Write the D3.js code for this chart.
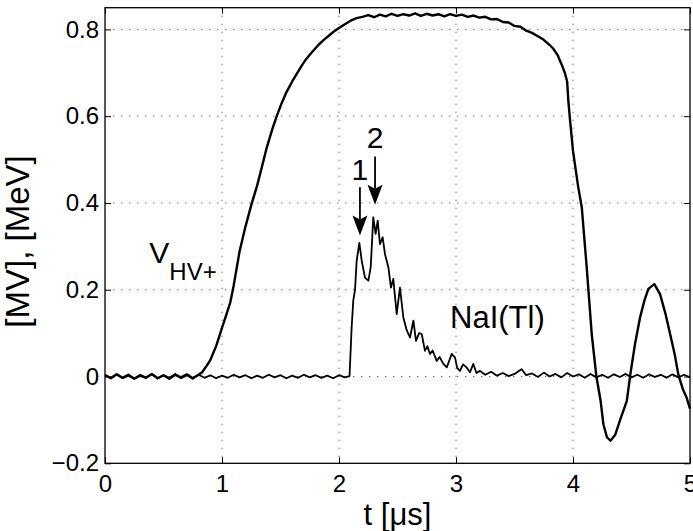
<!DOCTYPE html>
<html>
<head>
<meta charset="utf-8">
<script src="https://cdn.jsdelivr.net/npm/d3@7"></script>
<style>
  body { margin: 0; background: #fff; }
  text { font-family: "Liberation Sans", Arial, sans-serif; fill: #000; }
</style>
</head>
<body>
<svg width="693" height="531"></svg>
<script>
// tick values
const X_TICKS = [0, 1, 2, 3, 4, 5];
const Y_TICKS = [-0.2, 0, 0.2, 0.4, 0.6, 0.8];

// V_HV+ pulse, [t (us), MV]
const HV_PULSE = [
  [0, 0.003], [0.05, -0.004], [0.1, 0.005], [0.15, -0.003], [0.2, 0.004], [0.25, -0.005],
  [0.3, 0.002], [0.35, -0.003], [0.4, 0.006], [0.45, -0.004], [0.5, 0.003], [0.55, -0.005],
  [0.6, 0.004], [0.65, -0.002], [0.7, 0.005], [0.75, -0.004], [0.8, 0.004],
  [0.83, 0.01], [0.87, 0.025], [0.9, 0.038], [0.95, 0.07], [1.0, 0.112], [1.04, 0.145],
  [1.07, 0.17], [1.1, 0.21], [1.15, 0.288], [1.2, 0.345], [1.25, 0.395], [1.3, 0.44],
  [1.34, 0.482], [1.38, 0.525], [1.43, 0.57], [1.47, 0.602], [1.51, 0.63], [1.55, 0.655],
  [1.6, 0.68], [1.64, 0.698], [1.68, 0.716], [1.72, 0.732], [1.77, 0.748], [1.82, 0.763],
  [1.87, 0.776], [1.92, 0.787], [1.96, 0.796], [2.0, 0.803], [2.05, 0.812], [2.1, 0.82],
  [2.15, 0.826], [2.2, 0.829], [2.25, 0.833], [2.3, 0.828], [2.35, 0.834], [2.4, 0.83],
  [2.45, 0.836], [2.5, 0.831], [2.55, 0.835], [2.6, 0.832], [2.65, 0.837], [2.7, 0.831],
  [2.75, 0.836], [2.8, 0.832], [2.85, 0.835], [2.9, 0.83], [2.95, 0.835], [3.0, 0.831],
  [3.05, 0.834], [3.1, 0.829], [3.15, 0.832], [3.2, 0.827], [3.25, 0.829], [3.3, 0.823],
  [3.35, 0.824], [3.4, 0.817], [3.45, 0.816], [3.5, 0.808], [3.55, 0.806], [3.6, 0.797],
  [3.65, 0.792], [3.7, 0.784], [3.75, 0.776], [3.8, 0.764], [3.83, 0.756], [3.87, 0.74],
  [3.9, 0.721], [3.93, 0.7], [3.95, 0.68], [3.96, 0.636], [3.975, 0.59], [4.0, 0.52],
  [4.045, 0.436], [4.075, 0.39], [4.117, 0.252], [4.16, 0.098], [4.2, 0.0], [4.236, -0.056],
  [4.26, -0.11], [4.29, -0.14], [4.32, -0.148], [4.36, -0.135], [4.4, -0.102], [4.46, -0.056],
  [4.49, 0.005], [4.53, 0.075], [4.573, 0.136], [4.61, 0.175], [4.644, 0.202], [4.695, 0.213],
  [4.744, 0.19], [4.79, 0.145], [4.83, 0.098], [4.87, 0.05], [4.9, 0.005], [4.94, -0.03],
  [4.97, -0.048], [5.0, -0.074]
];

// NaI(Tl) signal, [t (us), MeV]
const NAI_SIGNAL = [
  [0, 0.004], [0.05, -0.003], [0.1, 0.005], [0.15, -0.004], [0.2, 0.002], [0.25, -0.005],
  [0.3, 0.004], [0.35, -0.002], [0.4, 0.005], [0.45, -0.004], [0.5, 0.003], [0.55, -0.003],
  [0.6, 0.006], [0.65, -0.004], [0.7, 0.003], [0.75, -0.005], [0.8, 0.004], [0.85, -0.003],
  [0.9, 0.003], [0.95, -0.004], [1.0, 0.002], [1.05, -0.003], [1.1, 0.004], [1.15, -0.002],
  [1.2, 0.003], [1.25, -0.004], [1.3, 0.002], [1.35, -0.003], [1.4, 0.004], [1.45, -0.002],
  [1.5, 0.003], [1.55, -0.004], [1.6, 0.002], [1.65, -0.003], [1.7, 0.004], [1.75, -0.002],
  [1.8, 0.003], [1.85, -0.003], [1.9, 0.002], [1.95, -0.004], [2.0, 0.003], [2.05, -0.002],
  [2.09, 0.001],
  [2.108, 0.113], [2.122, 0.175], [2.137, 0.2], [2.151, 0.267], [2.174, 0.308], [2.194, 0.267],
  [2.222, 0.228], [2.251, 0.221], [2.271, 0.252], [2.293, 0.367], [2.313, 0.329], [2.331, 0.359],
  [2.35, 0.305], [2.373, 0.321], [2.393, 0.282], [2.422, 0.252], [2.444, 0.205], [2.464, 0.225],
  [2.493, 0.144], [2.521, 0.205], [2.55, 0.136], [2.575, 0.11], [2.593, 0.098], [2.607, 0.09],
  [2.636, 0.129], [2.658, 0.082], [2.685, 0.1], [2.707, 0.098], [2.735, 0.059], [2.755, 0.07],
  [2.778, 0.052], [2.8, 0.06], [2.835, 0.036], [2.86, 0.045], [2.892, 0.029], [2.921, 0.021],
  [2.94, 0.035], [2.963, 0.052], [2.991, 0.044], [3.01, 0.02], [3.034, 0.013], [3.06, 0.028],
  [3.09, 0.021], [3.12, 0.01], [3.148, 0.029], [3.175, 0.008], [3.205, 0.013],
  [3.25, 0.004], [3.3, 0.011], [3.35, 0.002], [3.4, 0.008], [3.45, 0.001], [3.5, 0.006],
  [3.56, 0.017], [3.6, 0.003], [3.65, 0.007], [3.7, -0.001], [3.75, 0.009], [3.8, 0.0],
  [3.85, 0.006], [3.9, -0.002], [3.95, 0.008], [4.0, 0.0], [4.05, 0.005], [4.1, -0.003],
  [4.15, 0.006], [4.2, -0.002], [4.25, 0.004], [4.3, -0.003], [4.35, 0.005], [4.4, -0.001],
  [4.45, 0.006], [4.5, -0.002], [4.55, 0.004], [4.6, -0.003], [4.65, 0.005], [4.7, -0.001],
  [4.75, 0.004], [4.8, -0.003], [4.85, 0.005], [4.9, -0.002], [4.95, 0.004], [5.0, -0.002]
];

// arrows: label, t, tail value, tip value, label value
const ARROWS = [
  { label: '1', t: 2.179, tail: 0.436, tip: 0.325, text: 0.452 },
  { label: '2', t: 2.308, tail: 0.507, tip: 0.396, text: 0.5255 }
];

const svg = d3.select('svg');
const margin = { top: 7.7, right: 3, bottom: 67.7, left: 105 };
const width = 693 - margin.left - margin.right;
const height = 531 - margin.top - margin.bottom;

const x = d3.scaleLinear().domain([0, 5]).range([0, width]);
const y = d3.scaleLinear().domain([-0.2, 0.85]).range([height, 0]);

const g = svg.append('g').attr('transform', `translate(${margin.left},${margin.top})`);

// dotted grid
g.selectAll('.vgrid')
  .data(X_TICKS.filter(d => d > 0 && d < 5))
  .enter().append('line')
  .attr('x1', d => x(d)).attr('x2', d => x(d))
  .attr('y1', 0).attr('y2', height)
  .attr('stroke', '#666').attr('stroke-width', 1).attr('stroke-dasharray', '1.3,6.7');

g.selectAll('.hgrid')
  .data(Y_TICKS.filter(d => d > -0.2))
  .enter().append('line')
  .attr('x1', 0).attr('x2', width)
  .attr('y1', d => y(d)).attr('y2', d => y(d))
  .attr('stroke', '#666').attr('stroke-width', 1).attr('stroke-dasharray', '1.3,6.7');

const fmt = d => d < 0 ? '\u2212' + Math.abs(d) : String(d);

// axes with inward ticks
g.append('g').attr('transform', `translate(0,${height})`)
  .call(d3.axisBottom(x).tickValues(X_TICKS).tickFormat(fmt).tickSizeInner(-6).tickSizeOuter(0).tickPadding(12));
g.append('g')
  .call(d3.axisLeft(y).tickValues(Y_TICKS).tickFormat(fmt).tickSizeInner(-6).tickSizeOuter(0).tickPadding(6));
g.append('g')
  .call(d3.axisTop(x).tickValues(X_TICKS).tickFormat('').tickSizeInner(-6).tickSizeOuter(0));
g.append('g').attr('transform', `translate(${width},0)`)
  .call(d3.axisRight(y).tickValues(Y_TICKS).tickFormat('').tickSizeInner(-6).tickSizeOuter(0));

g.selectAll('.domain').remove();
g.selectAll('.tick line').attr('stroke', '#000').attr('stroke-width', 1);
g.selectAll('.tick text').attr('font-size', 24).attr('font-family', '"Liberation Sans", Arial, sans-serif');

// traces
const line = d3.line().x(d => x(d[0])).y(d => y(d[1]));

g.append('path').datum(NAI_SIGNAL)
  .attr('d', line).attr('fill', 'none')
  .attr('stroke', '#000').attr('stroke-width', 1.8).attr('stroke-linejoin', 'round');

g.append('path').datum(HV_PULSE)
  .attr('d', line).attr('fill', 'none')
  .attr('stroke', '#000').attr('stroke-width', 2.4).attr('stroke-linejoin', 'round');

// box
g.append('rect').attr('width', width).attr('height', height)
  .attr('fill', 'none').attr('stroke', '#000').attr('stroke-width', 1.3);

// arrows and peak numbers
ARROWS.forEach(a => {
  const ax = x(a.t), tipY = y(a.tip), headY = tipY - 20;
  g.append('line')
    .attr('x1', ax).attr('x2', ax).attr('y1', y(a.tail)).attr('y2', headY + 4)
    .attr('stroke', '#000').attr('stroke-width', 1.8);
  g.append('path')
    .attr('d', `M${ax},${tipY} L${ax - 7.5},${headY} L${ax},${headY + 4} L${ax + 7.5},${headY} Z`)
    .attr('fill', '#000');
  g.append('text')
    .attr('x', ax).attr('y', y(a.text))
    .attr('text-anchor', 'middle').attr('font-size', 30)
    .text(a.label);
});

// trace labels
const vLabel = g.append('text').attr('x', x(0.379)).attr('y', y(0.261)).attr('font-size', 30);
vLabel.append('tspan').text('V');
vLabel.append('tspan').attr('font-size', 24).attr('dy', 16.5).text('HV+');

g.append('text').attr('x', x(2.949)).attr('y', y(0.112)).attr('font-size', 31).text('NaI(Tl)');

// axis titles
svg.append('text')
  .attr('x', margin.left + width / 2).attr('y', 525)
  .attr('text-anchor', 'middle').attr('font-size', 31)
  .text('t [\u03bcs]');

svg.append('text')
  .attr('transform', `translate(29,${margin.top + height / 2 + 6}) rotate(-90)`)
  .attr('text-anchor', 'middle').attr('font-size', 33)
  .text('[MV], [MeV]');
</script>
</body>
</html>
